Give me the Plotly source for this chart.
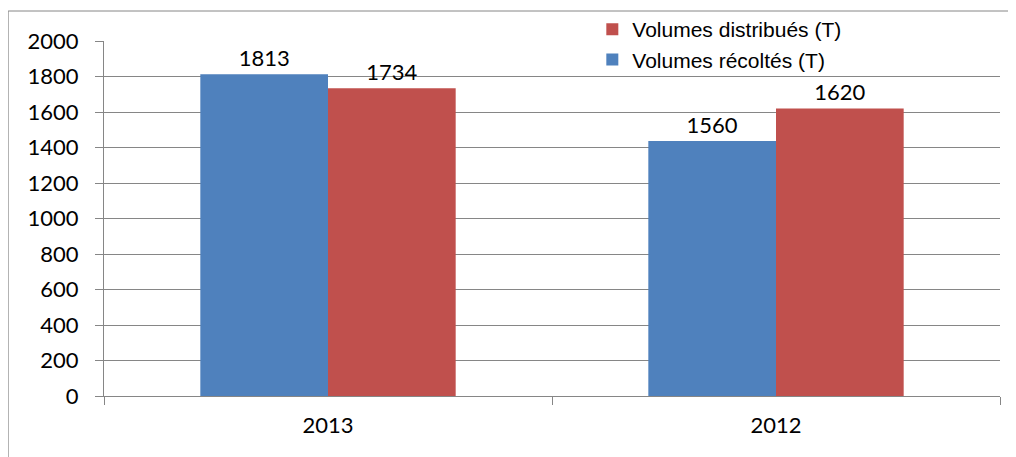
import plotly.graph_objects as go

categories = ["2013", "2012"]
recoltes = [1813, 1437]
recoltes_labels = ["1813", "1560"]
distribues = [1734, 1620]
distribues_labels = ["1734", "1620"]
y_ticks = [0, 200, 400, 600, 800, 1000, 1200, 1400, 1600, 1800, 2000]

GRID = "#868686"
BLUE = "#4F81BD"
RED = "#C0504D"
TICKFONT = dict(family="Lato", size=22, color="#000000")

fig = go.Figure()
fig.add_trace(go.Bar(
    x=categories, y=recoltes, name="Volumes récoltés (T)",
    marker=dict(color=BLUE, line=dict(width=0)),
    text=recoltes_labels, textposition="outside", textfont=TICKFONT,
    cliponaxis=False,
))
fig.add_trace(go.Bar(
    x=categories, y=distribues, name="Volumes distribués (T)",
    marker=dict(color=RED, line=dict(width=0)),
    text=distribues_labels, textposition="outside", textfont=TICKFONT,
    cliponaxis=False,
))

# the page body adds an 8px margin, so the figure is 8px smaller and margins compensate
fig.update_layout(
    width=1008, height=449,
    margin=dict(l=96, r=16, t=33, b=61, autoexpand=False),
    paper_bgcolor="white", plot_bgcolor="white",
    barmode="group", bargap=0.43, bargroupgap=0,
    showlegend=True,
    legend=dict(
        x=0.545, y=1.09, xanchor="left", yanchor="top",
        traceorder="reversed", bgcolor="rgba(0,0,0,0)",
        font=dict(family="Liberation Sans", size=21, color="#000000"),
        tracegroupgap=0,
    ),
)
fig.update_xaxes(
    type="category", tickson="boundaries", ticks="outside", ticklen=8,
    tickcolor=GRID, showline=True, linecolor=GRID, linewidth=1,
    showgrid=False, tickfont=TICKFONT, ticklabelstandoff=10,
)
fig.update_yaxes(
    range=[0, 2000], tickvals=y_ticks, ticks="outside", ticklen=8,
    tickcolor=GRID, showline=True, linecolor=GRID, linewidth=1,
    showgrid=True, gridcolor=GRID, gridwidth=1, zeroline=False,
    tickfont=TICKFONT, ticklabelstandoff=12,
)
# chart border
fig.add_shape(type="rect", xref="paper", yref="paper",
              x0=-0.107, x1=1.03, y0=-0.25, y1=1.0845,
              line=dict(color=GRID, width=1), fillcolor="rgba(0,0,0,0)", layer="below")

fig.write_html("out.html")
